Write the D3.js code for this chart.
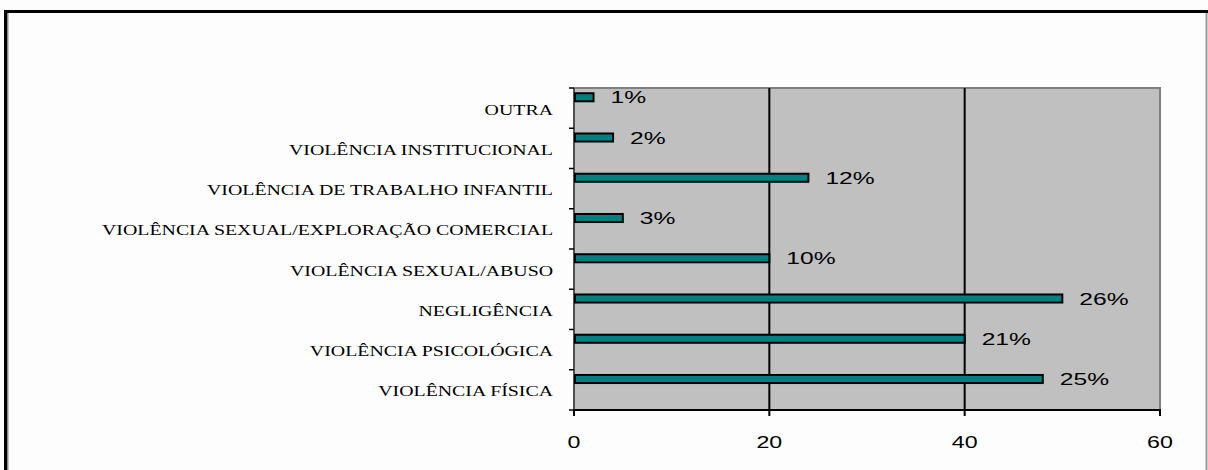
<!DOCTYPE html>
<html><head><meta charset="utf-8">
<script src="https://cdn.jsdelivr.net/npm/d3@7"></script>
<style>html,body{margin:0;padding:0;background:#fdfdfd;}svg{display:block;}</style>
</head><body>
<svg id="chart" width="1208" height="470"></svg>
<script>
const categories = ["OUTRA","VIOLÊNCIA INSTITUCIONAL","VIOLÊNCIA DE TRABALHO INFANTIL","VIOLÊNCIA SEXUAL/EXPLORAÇÃO COMERCIAL","VIOLÊNCIA SEXUAL/ABUSO","NEGLIGÊNCIA","VIOLÊNCIA PSICOLÓGICA","VIOLÊNCIA FÍSICA"];
const values = [2, 4, 24, 5, 20, 50, 40, 48];
const percentLabels = ["1%","2%","12%","3%","10%","26%","21%","25%"];
const xTicks = [0, 20, 40, 60];

const svg = d3.select("#chart");
const W = 1208, H = 470;
const plot = {left: 574, right: 1160, top: 88, bottom: 410};

// outer frame
svg.append("rect").attr("x",0).attr("y",0).attr("width",W).attr("height",H).attr("fill","#fdfdfd");
svg.append("line").attr("x1",7).attr("x2",7).attr("y1",11).attr("y2",H).attr("stroke","#888").attr("stroke-width",3);
svg.append("line").attr("x1",5.5).attr("x2",5.5).attr("y1",11).attr("y2",H).attr("stroke","#000").attr("stroke-width",3);
svg.append("line").attr("x1",4).attr("x2",W).attr("y1",11.5).attr("y2",11.5).attr("stroke","#000").attr("stroke-width",3);
svg.append("line").attr("x1",1206.5).attr("x2",1206.5).attr("y1",13).attr("y2",H).attr("stroke","#999").attr("stroke-width",2);

const x = d3.scaleLinear().domain([0,60]).range([plot.left, plot.right]);
const y = d3.scaleBand().domain(categories).range([plot.top, plot.bottom]).padding(0);
const bw = y.bandwidth();

// plot background
svg.append("rect").attr("x",plot.left).attr("y",plot.top)
  .attr("width",plot.right-plot.left).attr("height",plot.bottom-plot.top)
  .attr("fill","#c0c0c0");
// plot border top/right
svg.append("path").attr("d",`M${plot.left},${plot.top}H${plot.right}V${plot.bottom}`)
  .attr("fill","none").attr("stroke","#808080").attr("stroke-width",2);

// gridlines
svg.selectAll(".grid").data(xTicks.filter(t=>t>0 && t<60)).enter().append("line")
  .attr("x1",d=>x(d)).attr("x2",d=>x(d)).attr("y1",plot.top).attr("y2",plot.bottom)
  .attr("stroke","#000").attr("stroke-width",2);

// left axis
svg.append("line").attr("x1",plot.left).attr("x2",plot.left).attr("y1",plot.top).attr("y2",plot.bottom+1)
  .attr("stroke","#505050").attr("stroke-width",2);
const boundaries = categories.map(c=>y(c)).concat([plot.bottom]);
svg.selectAll(".ytick").data(boundaries).enter().append("line")
  .attr("x1",plot.left-5).attr("x2",plot.left).attr("y1",d=>d).attr("y2",d=>d)
  .attr("stroke","#000").attr("stroke-width",1.5);

// bottom axis
svg.append("line").attr("x1",plot.left-1).attr("x2",plot.right+1).attr("y1",plot.bottom).attr("y2",plot.bottom)
  .attr("stroke","#000").attr("stroke-width",2);
svg.selectAll(".xtick").data(xTicks).enter().append("line")
  .attr("x1",d=>x(d)).attr("x2",d=>x(d)).attr("y1",plot.bottom).attr("y2",plot.bottom+6)
  .attr("stroke","#000").attr("stroke-width",2);

const sx = 1.45;
svg.selectAll(".xlab").data(xTicks).enter().append("text")
  .attr("transform",d=>`translate(${x(d)},${plot.bottom+32}) scale(${sx},1)`)
  .attr("text-anchor","middle").attr("dominant-baseline","central")
  .attr("font-family","Liberation Sans, Arial, sans-serif").attr("font-size",16)
  .attr("fill","#000").text(d=>d);

// category labels
svg.selectAll(".cat").data(categories).enter().append("text")
  .attr("transform",d=>`translate(553,${y(d)+bw/2+2}) scale(1.37,1)`)
  .attr("text-anchor","end").attr("dominant-baseline","central")
  .attr("font-family","Liberation Serif, Times New Roman, serif").attr("font-size",14.5)
  .attr("fill","#000").text(d=>d);

// bars
const barOff = 0.13*bw, barH = 0.2*bw;
svg.selectAll(".bar").data(values).enter().append("rect")
  .attr("x",x(0)+1).attr("y",(d,i)=>y(categories[i])+barOff)
  .attr("width",d=>x(d)-x(0)-1).attr("height",barH)
  .attr("fill","#008080").attr("stroke","#000").attr("stroke-width",2);

// data labels
svg.selectAll(".dl").data(values).enter().append("text")
  .attr("transform",(d,i)=>`translate(${x(d)+17},${y(categories[i])+barOff+barH/2}) scale(${sx},1)`)
  .attr("text-anchor","start").attr("dominant-baseline","central")
  .attr("font-family","Liberation Sans, Arial, sans-serif").attr("font-size",17)
  .attr("fill","#000").text((d,i)=>percentLabels[i]);
</script>
</body></html>
